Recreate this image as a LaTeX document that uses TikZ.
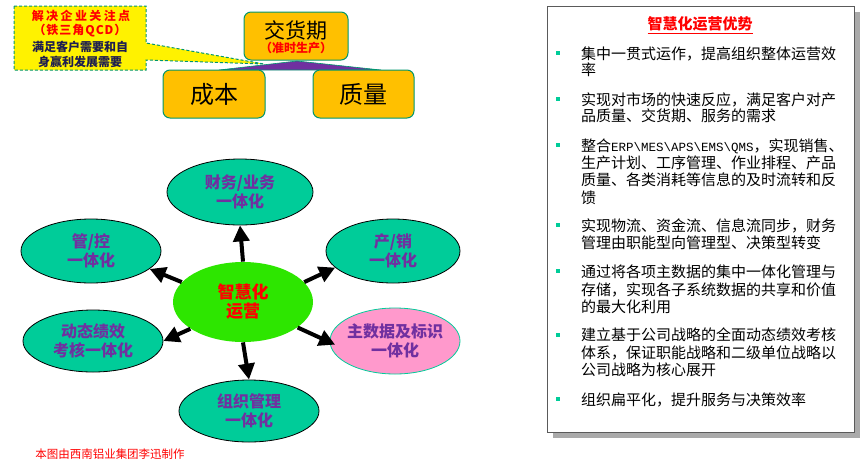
\documentclass[tikz,border=0pt]{standalone}
\usepackage{fontspec}
\setmainfont{Noto Sans CJK SC}
\newfontfamily\monofnt{Liberation Mono}
\usetikzlibrary{arrows.meta,shapes.geometric}
\definecolor{boxorange}{RGB}{255,192,0}
\definecolor{boxedge}{RGB}{0,150,110}
\definecolor{ellteal}{RGB}{0,204,153}
\definecolor{ctrgreen}{RGB}{45,230,0}
\definecolor{pinkf}{RGB}{255,153,204}
\definecolor{purp}{RGB}{112,48,160}
\definecolor{navy}{RGB}{30,30,80}
\definecolor{shadowgray}{RGB}{170,170,170}
\definecolor{paneledge}{RGB}{90,90,90}
\begin{document}
\begin{tikzpicture}[x=1pt,y=-1pt,
  qbox/.style={draw=boxedge, line width=1pt, fill=boxorange, rounded corners=7pt, inner sep=0pt},
  ell/.style={ellipse, draw=black, line width=0.8pt, fill=ellteal, inner sep=0pt},
  etxt/.style={text=purp, font=\fontsize{16}{19}\selectfont\bfseries, align=center, inner sep=0pt},
  arr/.style={line width=4pt, -{Triangle[length=16pt,width=16pt]}},
  ctext/.style={font=\fontsize{12}{14}\selectfont\bfseries, inner sep=0pt},
  bsq/.style={fill=ellteal, minimum size=4pt, inner sep=0pt},
  bl/.style={anchor=base west, font=\fontsize{15}{17}\selectfont, inner sep=0pt, text=black}
]
\useasboundingbox (0,0) rectangle (868,464);

% callout
\draw[fill=yellow, draw=boxedge, line width=1pt, dash pattern=on 3pt off 2pt]
  (14,6) -- (146,6) -- (146,43) -- (264,64) -- (146,60) -- (146,70) -- (14,70) -- cycle;
\node[ctext, text=red] (k1) at (81,16) {\addfontfeature{LetterSpace=20}解决企业关注点};
\node[ctext, text=red] (k2) at (80,31) {\addfontfeature{LetterSpace=8}（铁三角QCD）};
\node[ctext, text=navy] (k3) at (80,47) {满足客户需要和自};
\node[ctext, text=navy] (k4) at (80,62) {身赢利发展需要};

% purple triangle
\fill[purp, draw=boxedge, line width=0.6pt] (297,61) -- (381,70) -- (219,70) -- cycle;

% QCD boxes
\node[qbox, minimum width=104pt, minimum height=48pt] (jhq) at (296,36) {};
\node[inner sep=0pt, font=\fontsize{21}{21}\selectfont] (jhqt) at (296,30) {交货期};
\node[inner sep=0pt, font=\fontsize{12}{12}\selectfont\bfseries, text=red] (jhqs) at (296,48) {（准时生产）};
\node[qbox, minimum width=102pt, minimum height=48pt, font=\fontsize{24}{24}\selectfont] (cb) at (214,94) {成本};
\node[qbox, minimum width=101pt, minimum height=48pt, font=\fontsize{24}{24}\selectfont] (zl) at (363.5,94) {质量};

% ellipses
\node[ell, fill=ctrgreen, draw=none, minimum width=140pt, minimum height=80pt] (c) at (243,302) {};
\node[text=red, font=\fontsize{17}{19}\selectfont\bfseries, align=center, inner sep=0pt] (ct) at (243,302) {智慧化\\运营};
\node[ell, minimum width=146pt, minimum height=66pt] (t) at (240,192) {};
\node[etxt] (tt) at (240,192) {财务/业务\\一体化};
\node[ell, minimum width=140pt, minimum height=64pt] (l) at (91,251) {};
\node[etxt] (lt) at (91,251) {管/控\\一体化};
\node[ell, minimum width=134pt, minimum height=64pt] (r) at (393,251) {};
\node[etxt] (rt) at (393,251) {产/销\\一体化};
\node[ell, minimum width=140pt, minimum height=62pt] (dl) at (93,341) {};
\node[etxt] (dlt) at (93,341) {动态绩效\\考核一体化};
\node[ell, draw=ellteal, fill=pinkf, minimum width=130pt, minimum height=66pt] (m) at (395,341) {};
\node[etxt] (mt) at (395,341) {主数据及标识\\一体化};
\node[ell, minimum width=140pt, minimum height=62pt] (b) at (249,411) {};
\node[etxt] (bt) at (249,411) {组织管理\\一体化};

% arrows
\draw[arr] (c.north) -- (t.south);
\draw[arr] (c.south) -- (b.north);
\draw[arr] (c.162) -- (l.343);
\draw[arr] (c.18) -- (r.196);
\draw[arr] (c.207) -- (dl.0);
\draw[arr, shorten >=-6pt] (c.335) -- (m.181);

\node[inner sep=0pt, text=red, font=\fontsize{11.5}{12}\selectfont] (credit) at (110,454) {本图由西南铝业集团李迅制作};

% right panel
\fill[shadowgray] (553,12) rectangle (860,438);
\node[draw=paneledge, fill=white, line width=0.8pt, anchor=north west, minimum width=307pt, minimum height=426pt, inner sep=0pt] (panel) at (547,6) {};
\node[inner sep=0pt, text=red, font=\fontsize{15}{15}\selectfont\bfseries] (title) at (700,25) {\underline{智慧化运营优势}};

\node[bsq] (q1) at (558,53) {};
\node[bl] (b1a) at (581,59) {集中一贯式运作，提高组织整体运营效};
\node[bl] (b1b) at (581,75.5) {率};
\node[bsq] (q2) at (558,99) {};
\node[bl] (b2a) at (581,105) {实现对市场的快速反应，满足客户对产};
\node[bl] (b2b) at (581,121.5) {品质量、交货期、服务的需求};
\node[bsq] (q3) at (558,145) {};
\node[bl] (b3a) at (581,151) {整合{\monofnt\fontsize{12.5}{17}\selectfont ERP\textbackslash MES\textbackslash APS\textbackslash EMS\textbackslash QMS}，实现销售、};
\node[bl] (b3b) at (581,168.5) {生产计划、工序管理、作业排程、产品};
\node[bl] (b3c) at (581,185.5) {质量、各类消耗等信息的及时流转和反};
\node[bl] (b3d) at (581,203) {馈};
\node[bsq] (q4) at (558,225) {};
\node[bl] (b4a) at (581,231) {实现物流、资金流、信息流同步，财务};
\node[bl] (b4b) at (581,248.5) {管理由职能型向管理型、决策型转变};
\node[bsq] (q5) at (558,271) {};
\node[bl] (b5a) at (581,277.5) {通过将各项主数据的集中一体化管理与};
\node[bl] (b5b) at (581,295) {存储，实现各子系统数据的共享和价值};
\node[bl] (b5c) at (581,312.5) {的最大化利用};
\node[bsq] (q6) at (558,335) {};
\node[bl] (b6a) at (581,340.5) {建立基于公司战略的全面动态绩效考核};
\node[bl] (b6b) at (581,358) {体系，保证职能战略和二级单位战略以};
\node[bl] (b6c) at (581,375.5) {公司战略为核心展开};
\node[bsq] (q7) at (558,399) {};
\node[bl] (b7a) at (581,405.5) {组织扁平化，提升服务与决策效率};
\end{tikzpicture}
\end{document}
